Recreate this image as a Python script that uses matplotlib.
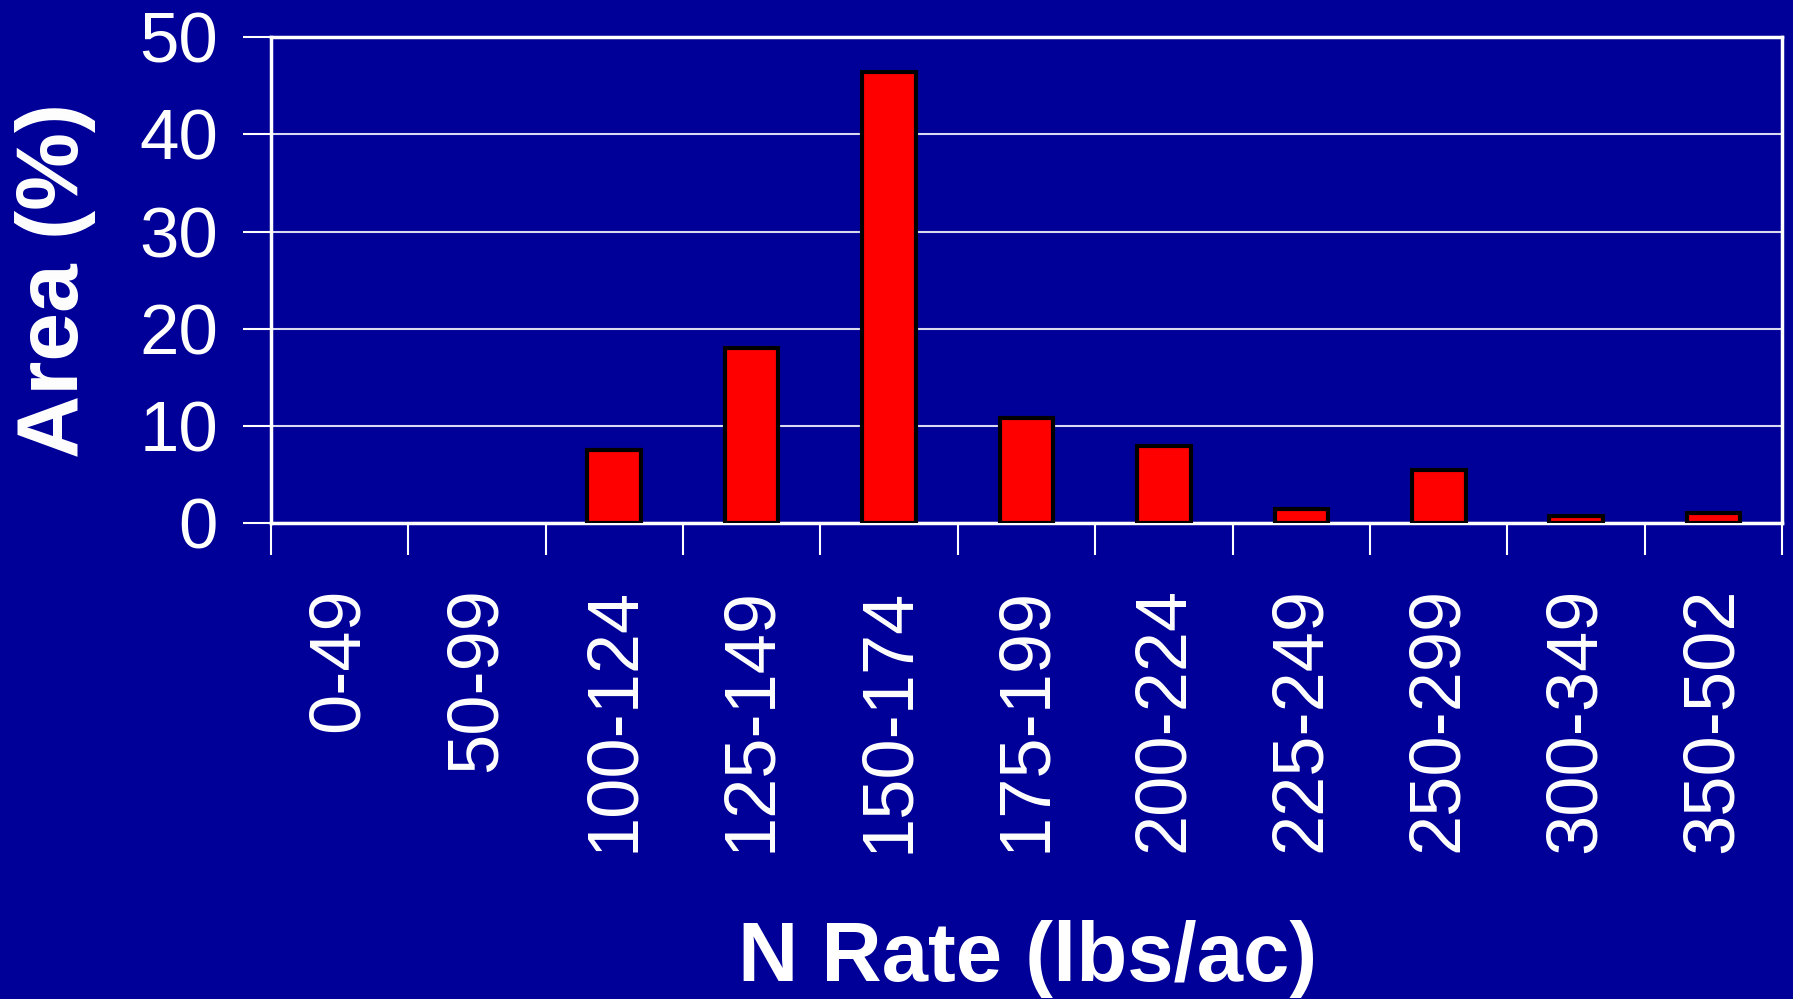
import matplotlib
matplotlib.use("Agg")
import matplotlib.pyplot as plt
import numpy as np

categories = ["0-49", "50-99", "100-124", "125-149", "150-174", "175-199",
              "200-224", "225-249", "250-299", "300-349", "350-502"]
area_pct = [0, 0, 7.6, 18.0, 46.4, 10.8, 8.0, 1.5, 5.5, 0.75, 1.1]
y_ticks = [0, 10, 20, 30, 40, 50]

BG = "#000099"
plt.rcParams['font.family'] = ['Liberation Sans', 'DejaVu Sans']

fig = plt.figure(figsize=(17.93, 9.99), dpi=100, facecolor=BG)
ax = fig.add_axes([0.151, 0.476, 0.843, 0.487], facecolor=BG)

x = np.arange(len(categories))
edge_w = [3 if v > 0 else 0 for v in area_pct]
ax.bar(x, area_pct, width=0.39, color="#ff0000", edgecolor="black",
       linewidth=edge_w, zorder=3)

ax.set_xlim(-0.5, len(categories) - 0.5)
ax.set_ylim(0, 50)
ax.set_yticks(y_ticks)
ax.set_yticklabels([str(v) for v in y_ticks])
ax.yaxis.grid(True, color="white", linewidth=1.5, alpha=0.85, zorder=1)

ax.set_xticks(x)
ax.set_xticklabels(categories, rotation=90, va="top", ha="center")
ax.set_xticks(np.arange(len(categories) + 1) - 0.5, minor=True)
ax.tick_params(axis="x", which="major", length=0, pad=46, labelsize=52,
               labelcolor="white")
ax.tick_params(axis="x", which="minor", length=23, width=1.5, color="white",
               direction="out")
ax.tick_params(axis="y", length=20, width=1.5, color="white", pad=18,
               labelsize=51, labelcolor="white")

for s in ax.spines.values():
    s.set_color("white")
    s.set_linewidth(2.5)

ax.set_ylabel("Area (%)", fontsize=63, fontweight="bold", color="white",
              labelpad=31)
fig.text(0.573, 0.040, "N Rate (lbs/ac)", fontsize=60, fontweight="bold",
         color="white", ha="center", va="center")

fig.savefig("out.png", dpi=100, facecolor=BG)
